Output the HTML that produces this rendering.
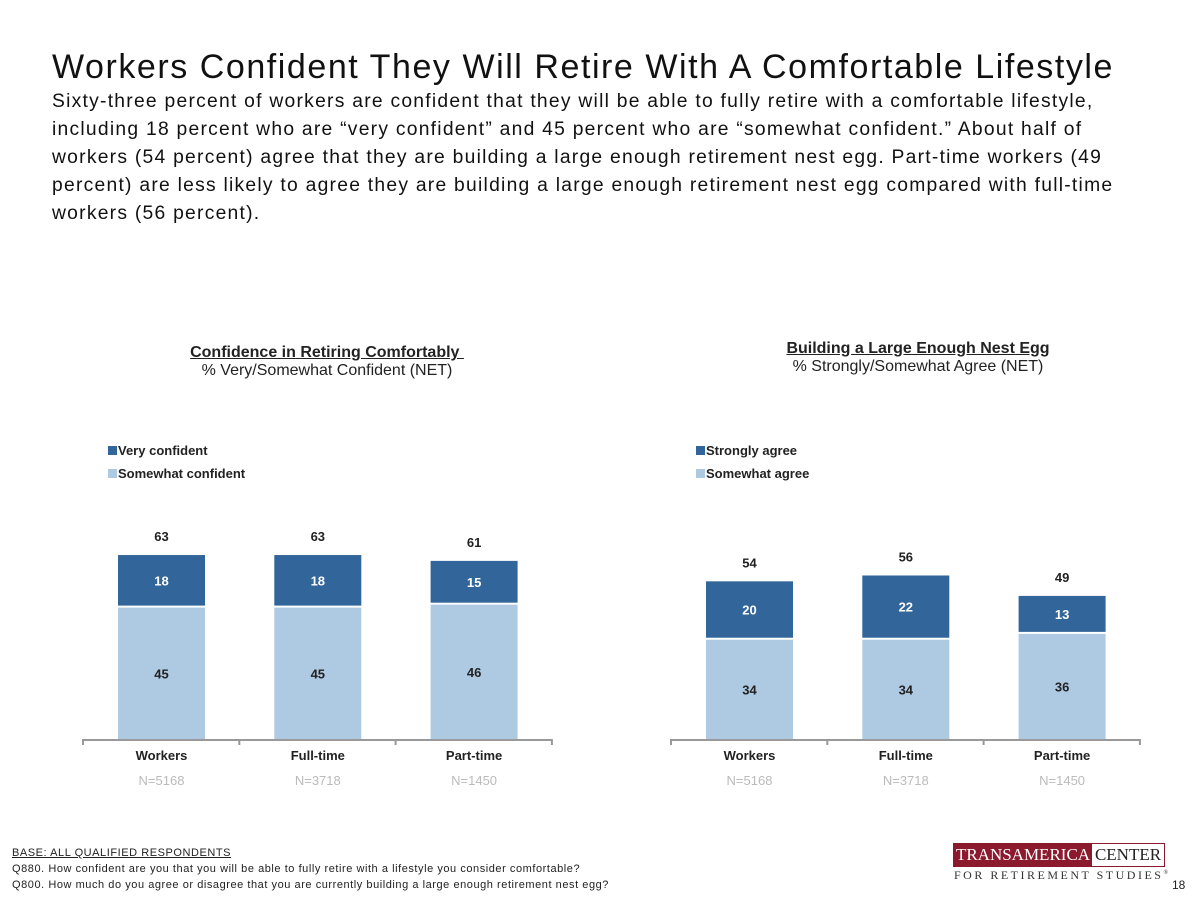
<!DOCTYPE html>
<html><head><meta charset="utf-8">
<style>
body{margin:0;width:1200px;height:900px;background:#fff;font-family:"Liberation Sans",sans-serif;position:relative;overflow:hidden;color:#111}
.abs{position:absolute;white-space:nowrap}
#title{left:52px;top:48px;font-size:34px;letter-spacing:1.55px;color:#111}
.line{left:52px;font-size:19.3px;letter-spacing:1.25px;color:#111}
.ct{font-size:16px;text-align:center;width:400px;color:#222}
.foot{left:12px;font-size:11px;letter-spacing:0.55px;color:#222}
</style></head><body>
<div class="abs" id="title">Workers Confident They Will Retire With A Comfortable Lifestyle</div>
<div>
<div class="abs line" style="top:91px">Sixty-three percent of workers are confident that they will be able to fully retire with a comfortable lifestyle,</div>
<div class="abs line" style="top:119px">including 18 percent who are “very confident” and 45 percent who are “somewhat confident.” About half of</div>
<div class="abs line" style="top:147px">workers (54 percent) agree that they are building a large enough retirement nest egg. Part-time workers (49</div>
<div class="abs line" style="top:175px">percent) are less likely to agree they are building a large enough retirement nest egg compared with full-time</div>
<div class="abs line" style="top:203px">workers (56 percent).</div>
</div>
<div class="abs ct" style="left:127px;top:344px"><b style="text-decoration:underline">Confidence in Retiring Comfortably&nbsp;</b><br>% Very/Somewhat Confident (NET)</div>
<div class="abs ct" style="left:718px;top:340px"><b style="text-decoration:underline">Building a Large Enough Nest Egg</b><br>% Strongly/Somewhat Agree (NET)</div>
<svg id="chart" width="1200" height="900" style="position:absolute;left:0;top:0"></svg>
<div class="abs foot" style="top:847px;text-decoration:underline">BASE: ALL QUALIFIED RESPONDENTS</div>
<div class="abs foot" style="top:863px">Q880. How confident are you that you will be able to fully retire with a lifestyle you consider comfortable?</div>
<div class="abs foot" style="top:879px">Q800. How much do you agree or disagree that you are currently building a large enough retirement nest egg?</div>
<div class="abs" style="left:953px;top:843px;width:210px;height:22px;border:1px solid #8b1a2e;">
<div style="position:absolute;left:0;top:0;width:138px;height:22px;background:#8b1a2e;color:#fff;font-family:'Liberation Serif',serif;font-size:17px;line-height:22px;text-align:center">TRANSAMERICA</div>
<div style="position:absolute;left:138px;top:0;width:72px;height:22px;color:#222;font-family:'Liberation Serif',serif;font-size:17px;line-height:22px;text-align:center">CENTER</div>
</div>
<div class="abs" style="left:954px;top:868px;font-family:'Liberation Serif',serif;font-size:12px;letter-spacing:2.5px;color:#333">FOR RETIREMENT STUDIES<sup style="font-size:6px">®</sup></div>
<div class="abs" style="left:1172px;top:878px;font-size:12px;color:#222">18</div>
<script>
const categories=["Workers","Full-time","Part-time"];
const sampleSizes=["N=5168","N=3718","N=1450"];
const leftSeriesNames=["Very confident","Somewhat confident"];
const leftTop=[18,18,15];
const leftBottom=[45,45,46];
const leftTotal=[63,63,61];
const rightSeriesNames=["Strongly agree","Somewhat agree"];
const rightTop=[20,22,13];
const rightBottom=[34,34,36];
const rightTotal=[54,56,49];
const DARK="#32659a",LIGHT="#aecae3";
const svg=document.getElementById('chart');
const NS="http://www.w3.org/2000/svg";
function mk(t,a){const e=document.createElementNS(NS,t);for(const k in a)e.setAttribute(k,a[k]);svg.appendChild(e);return e;}
const base=739,ppu=2.92;
function y(v){return base-v*ppu;}
function draw(x0,names,top,bottom,total,key){
  const step=156.3,bw=87;
  [DARK,LIGHT].forEach((c,i)=>{
    const r=mk('rect',{x:x0+25,y:446+i*23,width:9,height:9,fill:c});
    
    
    const t=mk('text',{x:x0+35,y:455+i*23,'font-size':13,'font-weight':'bold',fill:'#222'});
    
    
    t.textContent=names[i];
  });
  categories.forEach((c,i)=>{
    const cx=x0+78.5+i*step, bx=cx-bw/2;
    const b=mk('rect',{x:bx,y:y(bottom[i]),width:bw,height:bottom[i]*ppu,fill:LIGHT});
    
    
    const t=mk('rect',{x:bx,y:y(bottom[i]+top[i]),width:bw,height:top[i]*ppu-2,fill:DARK});
    
    
    const l1=mk('text',{x:cx,y:y(bottom[i]/2)+5,'text-anchor':'middle','font-size':13,'font-weight':'bold',fill:'#222'});
    
    
    l1.textContent=bottom[i];
    const l2=mk('text',{x:cx,y:y(bottom[i]+top[i]/2)+4,'text-anchor':'middle','font-size':13,'font-weight':'bold',fill:'#fff'});
    
    
    l2.textContent=top[i];
    const l3=mk('text',{x:cx,y:y(total[i])-14,'text-anchor':'middle','font-size':13,'font-weight':'bold',fill:'#222'});
    
    
    l3.textContent=total[i];
    const cl=mk('text',{x:cx,y:760,'text-anchor':'middle','font-size':13,'font-weight':'bold',fill:'#222'});
    
    
    cl.textContent=c;
    const nl=mk('text',{x:cx,y:785,'text-anchor':'middle','font-size':13,fill:'#bbb'});
    
    
    nl.textContent=sampleSizes[i];
  });
  const ax=mk('line',{x1:x0,x2:x0+step*3,y1:base+1,y2:base+1,stroke:'#999','stroke-width':2});
  
  
  for(let k=0;k<=3;k++){
    const tk=mk('line',{x1:x0+k*step,x2:x0+k*step,y1:base,y2:base+6,stroke:'#999','stroke-width':2});
    
    
  }
}
draw(83,leftSeriesNames,leftTop,leftBottom,leftTotal,'left');
draw(671,rightSeriesNames,rightTop,rightBottom,rightTotal,'right');
</script>
</body></html>
